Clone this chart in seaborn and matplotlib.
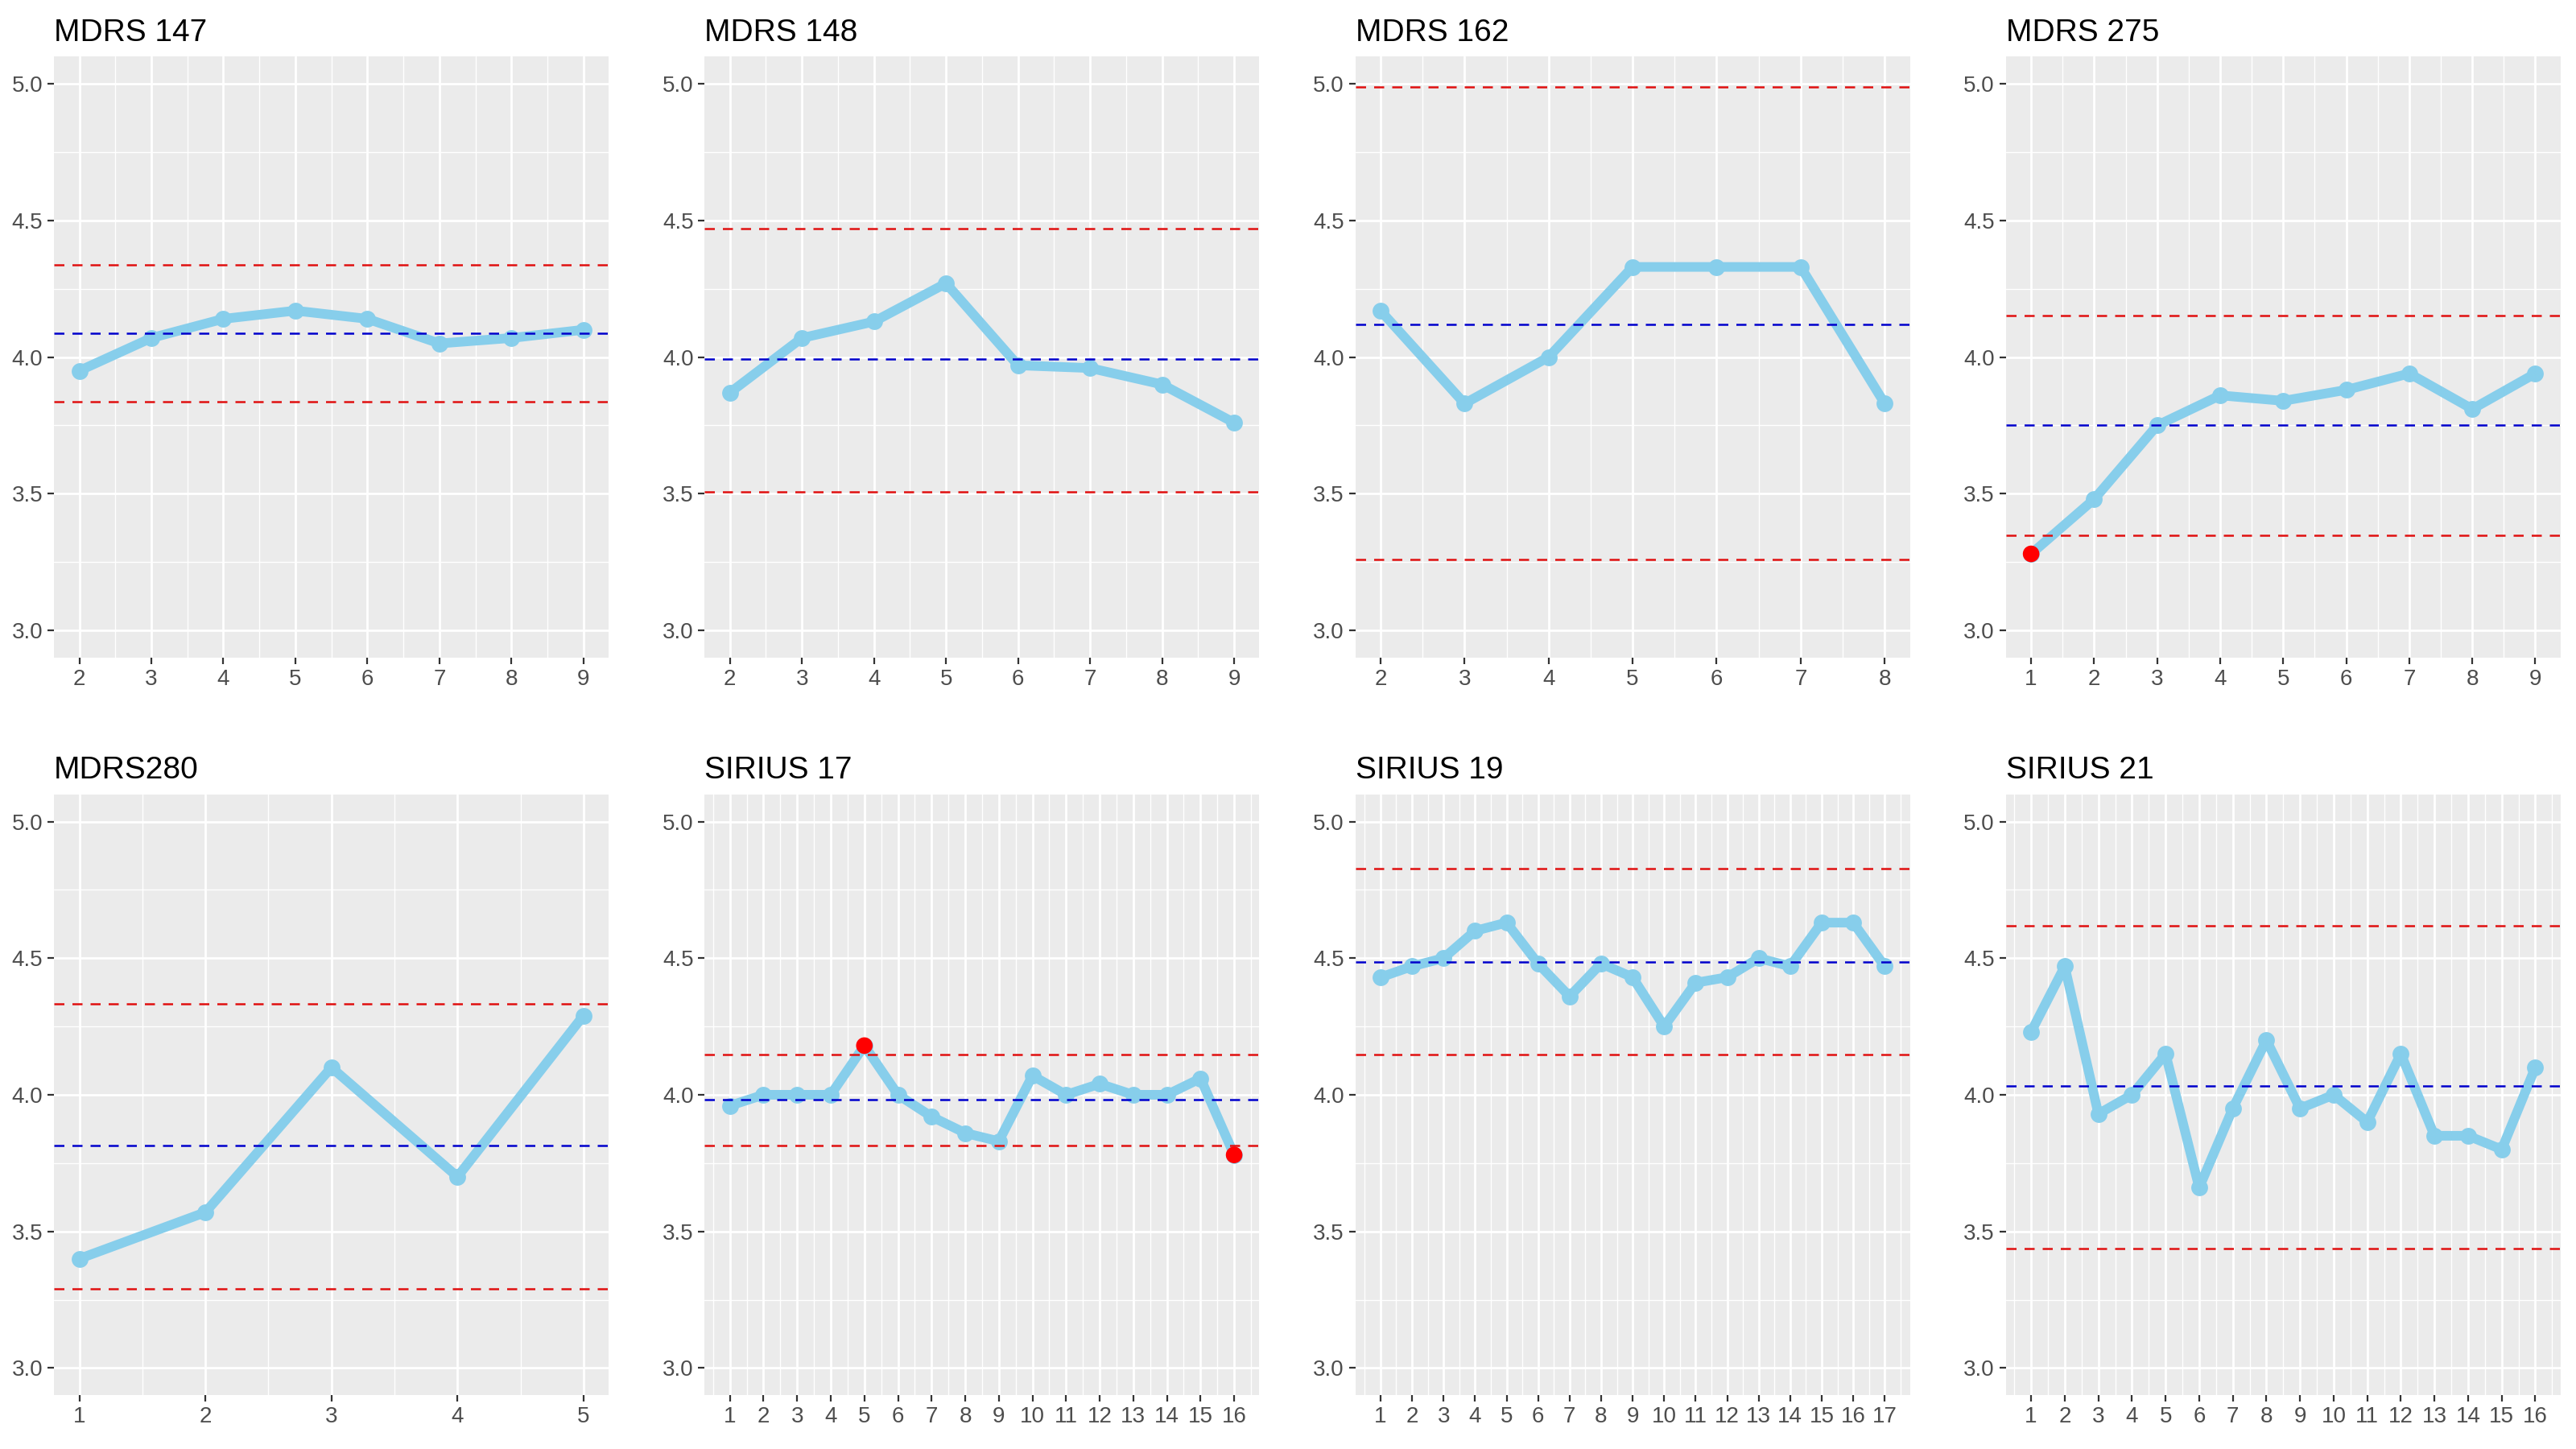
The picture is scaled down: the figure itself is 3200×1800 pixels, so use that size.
import numpy as np
import pandas as pd
import matplotlib.pyplot as plt
import seaborn as sns
from matplotlib.ticker import MultipleLocator, FormatStrFormatter

# panel titles and first x value of each series
titles = ["MDRS 147", "MDRS 148", "MDRS 162", "MDRS 275",
          "MDRS280", "SIRIUS 17", "SIRIUS 19", "SIRIUS 21"]
starts = [2, 2, 2, 1, 1, 1, 1, 1]

mdrs147 = [3.95, 4.07, 4.14, 4.17, 4.14, 4.05, 4.07, 4.10]
mdrs148 = [3.87, 4.07, 4.13, 4.27, 3.97, 3.96, 3.90, 3.76]
mdrs162 = [4.17, 3.83, 4.00, 4.33, 4.33, 4.33, 3.83]
mdrs275 = [3.28, 3.48, 3.75, 3.86, 3.84, 3.88, 3.94, 3.81, 3.94]
mdrs280 = [3.40, 3.57, 4.10, 3.70, 4.29]
sirius17 = [3.96, 4.00, 4.00, 4.00, 4.18, 4.00, 3.92, 3.86,
            3.83, 4.07, 4.00, 4.04, 4.00, 4.00, 4.06, 3.78]
sirius19 = [4.43, 4.47, 4.50, 4.60, 4.63, 4.48, 4.36, 4.48, 4.43,
            4.25, 4.41, 4.43, 4.50, 4.47, 4.63, 4.63, 4.47]
sirius21 = [4.23, 4.47, 3.93, 4.00, 4.15, 3.66, 3.95, 4.20,
            3.95, 4.00, 3.90, 4.15, 3.85, 3.85, 3.80, 4.10]

series = [mdrs147, mdrs148, mdrs162, mdrs275, mdrs280, sirius17, sirius19, sirius21]

# control lines: mean (blue) and upper / lower limits (red)
means = [4.086, 3.992, 4.121, 3.752, 3.814, 3.981, 4.487, 4.031]
uppers = [4.339, 4.471, 4.990, 4.152, 4.334, 4.147, 4.827, 4.620]
lowers = [3.838, 3.507, 3.260, 3.349, 3.289, 3.814, 4.147, 3.437]

sns.set_theme(style="darkgrid", rc={
    "axes.facecolor": "#EBEBEB",
    "figure.facecolor": "white",
    "xtick.bottom": True,
    "ytick.left": True,
})
plt.rcParams["font.family"] = ["Liberation Sans", "DejaVu Sans"]

fig, axes = plt.subplots(2, 4, figsize=(16, 9), dpi=200)
fig.subplots_adjust(left=0.021, right=0.994, top=0.961, bottom=0.037,
                    wspace=0.173, hspace=0.227)

dash = (0, (5, 4))

for ax, title, start, vals, m, up, lo in zip(axes.flat, titles, starts, series,
                                             means, uppers, lowers):
    df = pd.DataFrame({"x": np.arange(start, start + len(vals)), "y": vals})
    sns.lineplot(data=df, x="x", y="y", ax=ax, color="#87CEEB", linewidth=4.3,
                 marker="o", markersize=7.5, markeredgewidth=0, zorder=3)

    ax.axhline(m, color="#0000CC", linestyle=dash, linewidth=0.9, zorder=4)
    ax.axhline(up, color="#E01010", linestyle=dash, linewidth=0.9, zorder=4)
    ax.axhline(lo, color="#E01010", linestyle=dash, linewidth=0.9, zorder=4)

    out = df[(df.y > up) | (df.y < lo)]
    if len(out):
        sns.scatterplot(data=out, x="x", y="y", ax=ax, color="red", s=55,
                        edgecolor="none", zorder=5)

    x0, x1 = df.x.min(), df.x.max()
    pad = (x1 - x0) * 0.05
    ax.set_xlim(x0 - pad, x1 + pad)
    ax.set_xticks(df.x)
    ax.xaxis.set_minor_locator(MultipleLocator(0.5))
    ax.set_ylim(2.9, 5.1)
    ax.set_yticks([3.0, 3.5, 4.0, 4.5, 5.0])
    ax.yaxis.set_major_formatter(FormatStrFormatter("%.1f"))
    ax.yaxis.set_minor_locator(MultipleLocator(0.25))

    ax.grid(which="major", color="white", linewidth=1.0)
    ax.grid(which="minor", color="white", linewidth=0.5)
    ax.tick_params(which="major", length=3, width=0.8, color="#333333",
                   labelcolor="#4D4D4D", labelsize=10, pad=2)
    ax.tick_params(which="minor", length=0)
    for s in ax.spines.values():
        s.set_visible(False)

    ax.set_xlabel("")
    ax.set_ylabel("")
    ax.set_title(title, loc="left", fontsize=14, color="black", pad=7)

fig.savefig("out.png", dpi=200)
